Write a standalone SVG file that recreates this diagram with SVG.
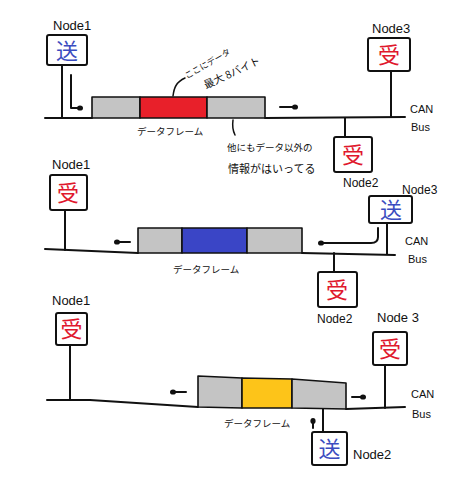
<svg xmlns="http://www.w3.org/2000/svg" width="474" height="478" viewBox="0 0 474 478">
<style>
.ln{fill:none;stroke:#111;stroke-width:2;stroke-linecap:round;stroke-linejoin:round}
.box{fill:#fff;stroke:#111;stroke-width:2;stroke-linejoin:round}
.fr{stroke:#111;stroke-width:1.6;stroke-linejoin:round}
.g{fill:#c4c4c4}
.lbl{font-family:"Liberation Sans","Noto Sans CJK JP",sans-serif;fill:#111}
.jp{font-family:"Noto Sans CJK JP",sans-serif;fill:#111}
.send{font-family:"Noto Sans CJK JP",sans-serif;fill:#3b4cc0;font-size:22px;text-anchor:middle}
.recv{font-family:"Noto Sans CJK JP",sans-serif;fill:#e0182d;font-size:22px;text-anchor:middle}
</style>
<defs>
<marker id="dot" viewBox="0 0 6 6" refX="3" refY="3" markerWidth="6" markerHeight="6" markerUnits="userSpaceOnUse" orient="auto">
<ellipse cx="3" cy="3" rx="3" ry="2.6" fill="#111"/>
</marker>
</defs>

<!-- connectors -->
<g id="connectors">
<!-- panel 1 -->
<path class="ln" d="M45,118 L92,118"/>
<path class="ln" d="M265,118 L405,117"/>
<path class="ln" d="M62,66 L62,118"/>
<path class="ln" d="M391,71 L391,117"/>
<path class="ln" d="M345,118 L345,137"/>
<path class="ln" d="M71,75 L71,108 L80,108" marker-end="url(#dot)"/>
<path class="ln" d="M280,107 L295,107" marker-end="url(#dot)"/>
<path class="ln" d="M173,96 C174,88 176,82 185,78" style="stroke-width:1.5"/>
<path class="ln" d="M233,120 C232,127 233,131 235,135" style="stroke-width:1.5"/>
<!-- panel 2 -->
<path class="ln" d="M45,249 L138,253"/>
<path class="ln" d="M302,253 L395,255"/>
<path class="ln" d="M65,210 L65,250"/>
<path class="ln" d="M387,223 L387,254"/>
<path class="ln" d="M334,253 L334,272"/>
<path class="ln" d="M130,242 L117,242" marker-end="url(#dot)"/>
<path class="ln" d="M378,228 L378,237 Q378,243 371,243 L321,243" marker-end="url(#dot)"/>
<!-- panel 3 -->
<path class="ln" d="M47,400 L90,400 L198,407"/>
<path class="ln" d="M346,409 L405,407"/>
<path class="ln" d="M70,345 L70,400"/>
<path class="ln" d="M385,365 L385,408"/>
<path class="ln" d="M323,409 L323,433"/>
<path class="ln" d="M186,392 L173,392" marker-end="url(#dot)"/>
<path class="ln" d="M352,397 L363,397" marker-end="url(#dot)"/>
<path class="ln" d="M313,428 L313,421" marker-end="url(#dot)"/>
</g>

<!-- frames -->
<g id="frame1">
<rect class="fr g" x="92" y="97" width="48" height="21"/>
<rect class="fr" x="140" y="97" width="67" height="21" fill="#e8202a"/>
<rect class="fr g" x="207" y="97" width="58" height="21"/>
<text class="jp" x="137" y="135" font-size="9.5">データフレーム</text>
<text class="jp" font-size="8.5" transform="translate(187,79) rotate(-30)">ここにデータ</text>
<text class="jp" font-size="10.5" transform="translate(206,89) rotate(-25)">最大 8バイト</text>
<text class="jp" x="227" y="151" font-size="9.5">他にもデータ以外の</text>
<text class="jp" x="228" y="173" font-size="11">情報がはいってる</text>
</g>
<g id="frame2">
<rect class="fr g" x="138" y="228" width="44" height="25"/>
<rect class="fr" x="182" y="228" width="65" height="25" fill="#3a45c6"/>
<rect class="fr g" x="247" y="228" width="55" height="25"/>
<text class="jp" x="173" y="273" font-size="9.5">データフレーム</text>
</g>
<g id="frame3">
<polygon class="fr g" points="198,376 242,378 242,408 198,407"/>
<polygon class="fr" points="242,378 292,379 292,408 242,408" fill="#fdc419"/>
<polygon class="fr g" points="292,379 346,383 346,409 292,408"/>
<text class="jp" x="224" y="427" font-size="9.5">データフレーム</text>
</g>

<!-- panel 1 nodes -->
<g id="p1-node1">
<text class="lbl" x="53" y="30" font-size="13">Node1</text>
<rect class="box" x="47" y="35" width="40" height="30" rx="2"/>
<text class="send" x="67" y="59">送</text>
</g>
<g id="p1-node3">
<text class="lbl" x="372" y="33" font-size="13">Node3</text>
<rect class="box" x="368" y="38" width="42" height="33" rx="2"/>
<text class="recv" x="389" y="63">受</text>
</g>
<g id="p1-node2">
<rect class="box" x="334" y="137" width="38" height="35" rx="2"/>
<text class="recv" x="353" y="163">受</text>
<text class="lbl" x="343" y="187" font-size="12">Node2</text>
</g>
<g id="p1-bus">
<text class="lbl" x="410" y="113" font-size="11">CAN</text>
<text class="lbl" x="411" y="131" font-size="11">Bus</text>
</g>

<!-- panel 2 nodes -->
<g id="p2-node1">
<text class="lbl" x="52" y="169" font-size="13">Node1</text>
<rect class="box" x="50" y="175" width="37" height="35" rx="2"/>
<text class="recv" x="68" y="201">受</text>
</g>
<g id="p2-node3">
<text class="lbl" x="402" y="194" font-size="12">Node3</text>
<rect class="box" x="369" y="196" width="43" height="27" rx="2"/>
<text class="send" x="391" y="218">送</text>
</g>
<g id="p2-node2">
<rect class="box" x="318" y="272" width="39" height="35" rx="2"/>
<text class="recv" x="337" y="298">受</text>
<text class="lbl" x="317" y="323" font-size="12">Node2</text>
</g>
<g id="p2-bus">
<text class="lbl" x="405" y="245" font-size="11">CAN</text>
<text class="lbl" x="408" y="263" font-size="11">Bus</text>
</g>

<!-- panel 3 nodes -->
<g id="p3-node1">
<text class="lbl" x="52" y="305" font-size="13">Node1</text>
<rect class="box" x="56" y="313" width="31" height="32" rx="2"/>
<text class="recv" x="71.5" y="337">受</text>
</g>
<g id="p3-node3">
<text class="lbl" x="377" y="322" font-size="13">Node 3</text>
<rect class="box" x="373" y="332" width="34" height="33" rx="2"/>
<text class="recv" x="390" y="357">受</text>
</g>
<g id="p3-node2">
<rect class="box" x="312" y="432" width="35" height="33" rx="2"/>
<text class="send" x="329.5" y="457">送</text>
<text class="lbl" x="353" y="459" font-size="13">Node2</text>
</g>
<g id="p3-bus">
<text class="lbl" x="411" y="398" font-size="11">CAN</text>
<text class="lbl" x="412" y="418" font-size="11">Bus</text>
</g>
</svg>
